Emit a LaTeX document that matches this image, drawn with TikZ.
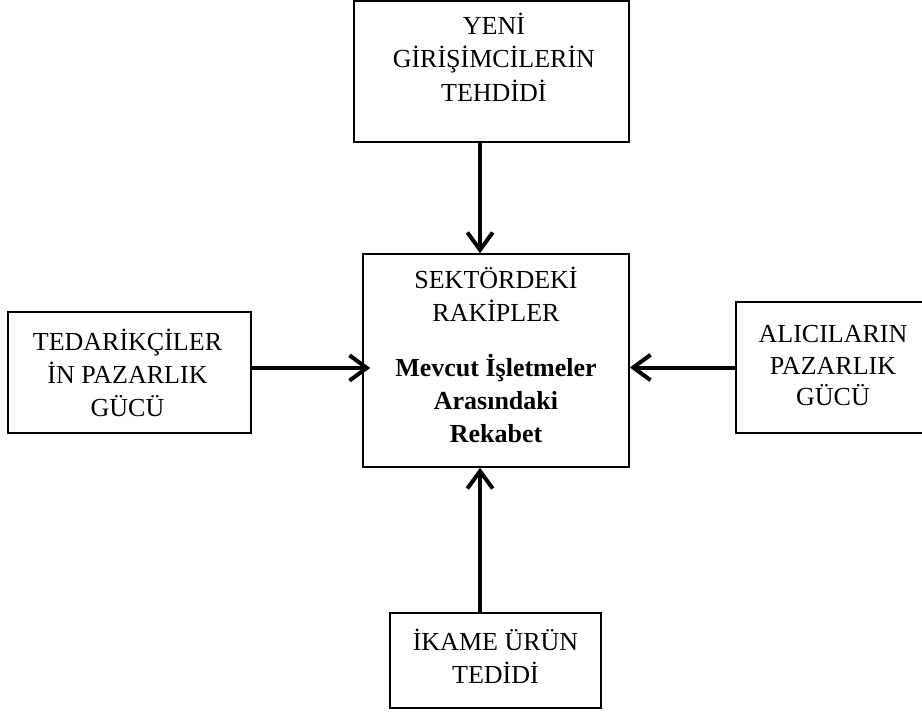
\documentclass[tikz,border=0pt]{standalone}
\usepackage{fontspec}
\setmainfont{Liberation Serif}
\usetikzlibrary{arrows.meta,fit,calc}
\newcommand\firstlinestrut{\rule{0pt}{20pt}}
\begin{document}
\begin{tikzpicture}[x=0.75pt,y=-0.75pt,
  box/.style={draw=black,line width=1.2pt,inner sep=0pt,rectangle},
  txt/.style={anchor=north,align=center,inner sep=0pt,
    font=\fontsize{19.5pt}{25pt}\selectfont},
  arr/.style={line width=3pt,-{Straight Barb[length=13pt,width=19pt]}}]
\useasboundingbox[fill=white] (0,0) rectangle (922,713);
% boxes
\node[box,fit={(354,1) (629,142)}] (top) {};
\node[box,fit={(363,254) (629,467)}] (center) {};
\node[box,fit={(8,312) (251,433)}] (left) {};
\node[box,fit={(736,302) (935,433)}] (right) {};
\node[box,fit={(390,613) (601,708)}] (bottom) {};
% texts
\node[txt] (topt) at ([xshift=1.8pt,yshift=-5.5pt]top.north)
  {\firstlinestrut YENİ\\GİRİŞİMCİLERİN\\TEHDİDİ};
\node[txt] (centert) at ([yshift=-6pt]center.north)
  {\firstlinestrut SEKTÖRDEKİ\\RAKİPLER\\[16pt]\bfseries Mevcut İşletmeler\\\bfseries Arasındaki\\\bfseries Rekabet};
\node[txt] (leftt) at ([xshift=-1.5pt,yshift=-9pt]left.north)
  {\firstlinestrut TEDARİKÇİLER\\İN PAZARLIK\\GÜCÜ};
\node[txt,font=\fontsize{19.5pt}{23.5pt}\selectfont] (rightt) at ([xshift=-1.9pt,yshift=-11pt]right.north)
  {\firstlinestrut ALICILARIN\\PAZARLIK\\GÜCÜ};
\node[txt] (bottomt) at ([yshift=-8.2pt]bottom.north)
  {\firstlinestrut İKAME ÜRÜN\\TEDİDİ};
% connectors
\coordinate (tA) at ([xshift=-8.6pt]top.south);
\draw[arr] (tA) -- (tA |- center.north);
\coordinate (bA) at ([xshift=-11.6pt]bottom.north);
\draw[arr] (bA) -- (bA |- center.south);
\coordinate (lA) at ([yshift=3.4pt]left.east);
\draw[arr] (lA) -- ([xshift=6pt]center.west |- lA);
\draw[arr] (right.west) -- (center.east |- right.west);
\end{tikzpicture}
\end{document}
